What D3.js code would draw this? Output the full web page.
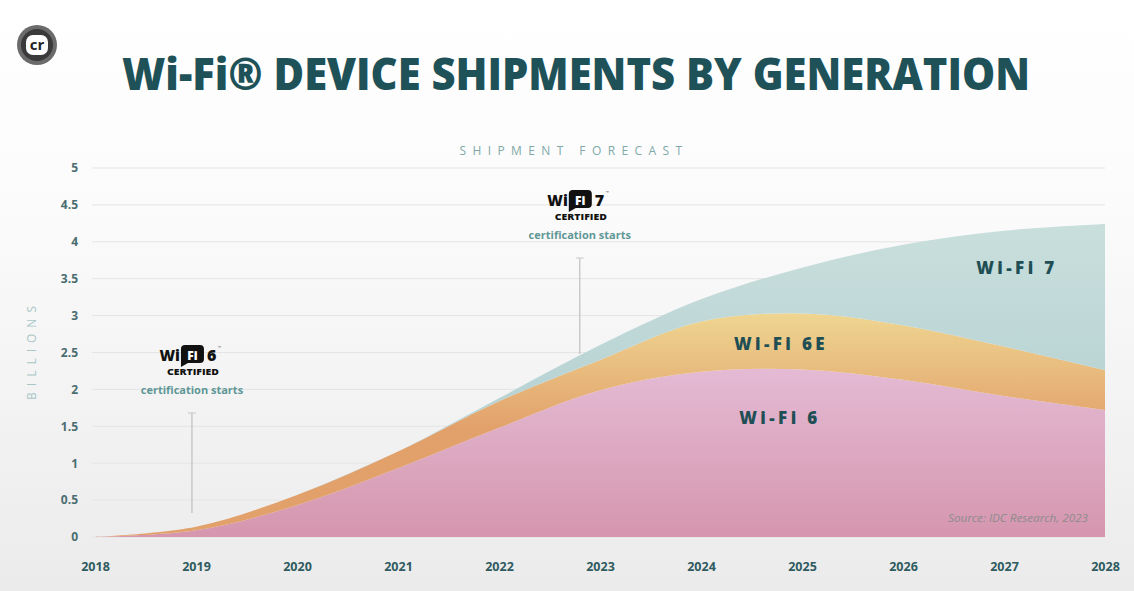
<!DOCTYPE html>
<html>
<head>
<meta charset="utf-8">
<script src="https://cdn.jsdelivr.net/npm/d3@7"></script>
<style>
  html, body { margin: 0; padding: 0; background: #fff; }
  svg { display: block; }
</style>
</head>
<body>
<div class="chart"></div>
<script>
// Chart data (billions of devices)
var years = [2018, 2019, 2020, 2021, 2022, 2023, 2024, 2025, 2026, 2027, 2028];
var wifi6 = [0, 0.09, 0.43, 0.93, 1.48, 1.99, 2.24, 2.27, 2.13, 1.91, 1.72];
var wifi6e = [0, 0.05, 0.14, 0.23, 0.36, 0.41, 0.68, 0.76, 0.74, 0.67, 0.54];
var wifi7 = [0, 0, 0, 0, 0.04, 0.20, 0.30, 0.62, 1.09, 1.57, 1.98];
var seriesNames = ["Wi-Fi 6", "Wi-Fi 6E", "Wi-Fi 7"];
var yTicks = [0, 0.5, 1, 1.5, 2, 2.5, 3, 3.5, 4, 4.5, 5];

// certification start markers
var certYears = [2018.96, 2022.8];
var certTops = [1.68, 3.78];
var certNums = ["6", "7"];

var svgWidth = 1134;
var svgHeight = 591;

var svg = d3.select(".chart")
  .append("svg")
  .attr("width", svgWidth)
  .attr("height", svgHeight);

var defs = svg.append("defs");

// background
var bg = defs.append("linearGradient").attr("id", "bg")
  .attr("x1", 0).attr("y1", 0).attr("x2", 0).attr("y2", 1);
bg.append("stop").attr("offset", "0%").attr("stop-color", "#ffffff");
bg.append("stop").attr("offset", "35%").attr("stop-color", "#fbfbfb");
bg.append("stop").attr("offset", "100%").attr("stop-color", "#ebebeb");
svg.append("rect").attr("width", svgWidth).attr("height", svgHeight).attr("fill", "url(#bg)");

// area gradients in user space
function gradient(id, y1, y2, c1, c2) {
  var g = defs.append("linearGradient").attr("id", id)
    .attr("gradientUnits", "userSpaceOnUse")
    .attr("x1", 0).attr("y1", y1).attr("x2", 0).attr("y2", y2);
  g.append("stop").attr("offset", "0%").attr("stop-color", c1);
  g.append("stop").attr("offset", "100%").attr("stop-color", c2);
}
gradient("g6", 360, 537, "#e5bcd6", "#d596ae");
gradient("g6e", 310, 430, "#efd792", "#e2a06a");
gradient("g7", 220, 400, "#c9dfdc", "#b8d3d4");

var x = d3.scaleLinear().domain([2018, 2028]).range([95, 1105]);
var y = d3.scaleLinear().domain([0, 5]).range([537, 168]);

// "cr" badge
var badge = svg.append("g").attr("transform", "translate(37,45)");
badge.append("circle").attr("r", 20).attr("fill", "#6b6b6b");
badge.append("circle").attr("r", 16).attr("fill", "#3a3a3a");
badge.append("rect").attr("x", -11).attr("y", -10).attr("width", 22).attr("height", 20)
  .attr("rx", 7).attr("fill", "#fff");
badge.append("text").attr("x", 0).attr("y", 5)
  .attr("text-anchor", "middle")
  .style("font-family", "'Open Sans', sans-serif").style("font-weight", 700)
  .style("font-size", "15px").attr("fill", "#222").text("cr");

// title
svg.append("text")
  .attr("x", 122).attr("y", 90)
  .attr("textLength", 908).attr("lengthAdjust", "spacingAndGlyphs")
  .style("font-family", "'Open Sans', sans-serif").style("font-weight", 800)
  .style("font-size", "45px").attr("fill", "#1f5258")
  .text("Wi-Fi® DEVICE SHIPMENTS BY GENERATION");

svg.append("text")
  .attr("x", 574).attr("y", 155)
  .attr("text-anchor", "middle")
  .style("font-family", "'Open Sans', sans-serif").style("font-size", "12px")
  .style("letter-spacing", "6.4px").attr("fill", "#7fa9a8")
  .text("SHIPMENT FORECAST");

// gridlines
svg.append("g").selectAll("line")
  .data(yTicks)
  .enter().append("line")
  .attr("x1", 92).attr("x2", 1105)
  .attr("y1", d => y(d)).attr("y2", d => y(d))
  .attr("stroke", "#e4e4e4").attr("stroke-width", 1);

// stacked areas
var rows = years.map(function(yr, i) {
  return { year: yr, "Wi-Fi 6": wifi6[i], "Wi-Fi 6E": wifi6e[i], "Wi-Fi 7": wifi7[i] };
});
var stack = d3.stack().keys(seriesNames);
var layers = stack(rows);
var fills = ["url(#g6)", "url(#g6e)", "url(#g7)"];

var area = d3.area()
  .x(d => x(d.data.year))
  .y0(d => y(d[0]))
  .y1(d => y(d[1]))
  .curve(d3.curveCatmullRom.alpha(0.5));

svg.append("g").selectAll("path")
  .data(layers)
  .enter().append("path")
  .attr("d", area)
  .attr("fill", (d, i) => fills[i]);

// axes
var leftAxis = d3.axisLeft(y).tickValues(yTicks).tickSize(0).tickPadding(14)
  .tickFormat(d => String(d));
var gy = svg.append("g").attr("transform", "translate(92,0)").call(leftAxis);
gy.select(".domain").remove();
gy.selectAll("text")
  .style("font-family", "'Open Sans', sans-serif").style("font-weight", 700)
  .style("font-size", "12px").attr("fill", "#4a6d70");

var bottomAxis = d3.axisBottom(x).tickValues(years).tickSize(0).tickPadding(25)
  .tickFormat(d3.format("d"));
var gx = svg.append("g").attr("transform", "translate(0,537)").call(bottomAxis);
gx.select(".domain").remove();
gx.selectAll("text")
  .style("font-family", "'Open Sans', sans-serif").style("font-weight", 700)
  .style("font-size", "12.5px").attr("fill", "#2f5b60");

svg.append("text")
  .attr("transform", "translate(36,350) rotate(-90)")
  .attr("text-anchor", "middle")
  .style("font-family", "'Open Sans', sans-serif").style("font-size", "12px")
  .style("letter-spacing", "6px").attr("fill", "#a9c7c6")
  .text("BILLIONS");

// series labels
var labelPos = [[780, 424], [781, 350], [1017, 274]];
svg.append("g").selectAll("text")
  .data(seriesNames)
  .enter().append("text")
  .attr("x", (d, i) => labelPos[i][0]).attr("y", (d, i) => labelPos[i][1])
  .attr("text-anchor", "middle")
  .style("font-family", "'Open Sans', sans-serif").style("font-weight", 800)
  .style("font-size", "17px").style("letter-spacing", "3.4px")
  .attr("fill", "#1f4f55")
  .text(d => d);

svg.append("text")
  .attr("x", 1088).attr("y", 522)
  .attr("text-anchor", "end")
  .attr("textLength", 140).attr("lengthAdjust", "spacingAndGlyphs")
  .style("font-family", "'Open Sans', sans-serif").style("font-style", "italic")
  .style("font-size", "10.5px").attr("fill", "#8c8c8c")
  .text("Source: IDC Research, 2023");

// certification markers
certYears.forEach(function(cy, i) {
  var cx = x(cy);
  var top = y(certTops[i]);
  var g = svg.append("g");
  g.append("line").attr("x1", cx).attr("x2", cx)
    .attr("y1", top).attr("y2", i === 0 ? top + 100 : top + 96)
    .attr("stroke", "#b5b5b5").attr("stroke-width", 1);
  g.append("line").attr("x1", cx - 4).attr("x2", cx + 4)
    .attr("y1", top).attr("y2", top)
    .attr("stroke", "#c8c8c8").attr("stroke-width", 1);

  var ly = top - 58;
  var logo = g.append("g").attr("transform", "translate(" + cx + "," + ly + ")");
  logo.append("text").attr("x", -12).attr("y", 6).attr("text-anchor", "end")
    .style("font-family", "'Open Sans', sans-serif").style("font-weight", 800)
    .style("font-size", "15px").attr("fill", "#111").text("Wi");
  logo.append("path")
    .attr("d", "M-11,-6 q0,-4 4,-4 h15 q4,0 4,4 v10 q0,4 -4,4 h-12 l-7,4 z")
    .attr("fill", "#111");
  logo.append("text").attr("x", 0.5).attr("y", 5).attr("text-anchor", "middle")
    .style("font-family", "'Open Sans', sans-serif").style("font-weight", 800)
    .style("font-size", "12px").attr("fill", "#fff").text("Fi");
  logo.append("text").attr("x", 15).attr("y", 6)
    .style("font-family", "'Open Sans', sans-serif").style("font-weight", 800)
    .style("font-size", "16px").attr("fill", "#111").text(certNums[i]);
  logo.append("text").attr("x", 26).attr("y", -6)
    .style("font-family", "'Open Sans', sans-serif")
    .style("font-size", "4px").attr("fill", "#555").text("™");
  logo.append("text").attr("x", 1).attr("y", 20).attr("text-anchor", "middle")
    .attr("textLength", 52).attr("lengthAdjust", "spacingAndGlyphs")
    .style("font-family", "'Open Sans', sans-serif").style("font-weight", 800)
    .style("font-size", "8px").attr("fill", "#111")
    .text("CERTIFIED");
  g.append("text").attr("x", cx).attr("y", ly + 39).attr("text-anchor", "middle")
    .style("font-family", "'Open Sans', sans-serif").style("font-weight", 700)
    .style("font-size", "11px").attr("fill", "#5f9797")
    .text("certification starts");
});
</script>
</body>
</html>
